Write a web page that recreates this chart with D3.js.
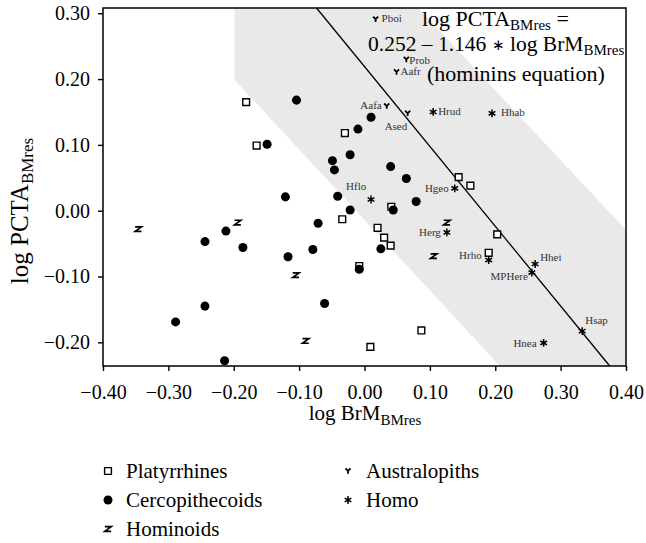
<!DOCTYPE html>
<html>
<head>
<meta charset="utf-8">
<script src="https://cdn.jsdelivr.net/npm/d3@7"></script>
<style>
  body { margin: 0; background: #fff; }
  svg text { font-family: "Liberation Serif", "Times New Roman", serif; }
</style>
</head>
<body>
<svg id="drawing_region"></svg>
<script>
// values
const xTicks = [-0.40, -0.30, -0.20, -0.10, 0.00, 0.10, 0.20, 0.30, 0.40];
const yTicks = [-0.20, -0.10, 0.00, 0.10, 0.20, 0.30];

const platyrrhines = [
  [-0.181, 0.165], [-0.030, 0.118], [-0.165, 0.099], [0.144, 0.051], [0.162, 0.038],
  [0.041, 0.006], [-0.034, -0.013], [0.020, -0.026], [0.030, -0.041], [0.040, -0.053],
  [-0.008, -0.084], [0.203, -0.036], [0.190, -0.064], [0.087, -0.182], [0.009, -0.207]
];

const cercopithecoids = [
  [-0.104, 0.168], [0.010, 0.142], [-0.010, 0.124], [-0.149, 0.101], [-0.022, 0.085],
  [-0.049, 0.076], [-0.046, 0.062], [0.040, 0.067], [0.064, 0.049], [-0.121, 0.021],
  [-0.041, 0.022], [-0.022, 0.001], [0.044, 0.001], [0.079, 0.014], [-0.071, -0.019],
  [-0.212, -0.031], [-0.244, -0.047], [-0.186, -0.056], [-0.117, -0.070], [-0.079, -0.059],
  [0.025, -0.058], [-0.008, -0.089], [-0.061, -0.141], [-0.244, -0.145], [-0.289, -0.169],
  [-0.214, -0.228]
];

const hominoids = [
  [0.126, -0.018], [0.106, -0.069], [-0.346, -0.028], [-0.194, -0.018], [-0.105, -0.098],
  [-0.090, -0.198]
];

const australopiths = [
  {name: "Pboi", x: 0.017, y: 0.291},
  {name: "Prob", x: 0.064, y: 0.230},
  {name: "Aafr", x: 0.049, y: 0.211},
  {name: "Aafa", x: 0.034, y: 0.159},
  {name: "Ased", x: 0.066, y: 0.148}
];

const homo = [
  {name: "Hrud", x: 0.105, y: 0.150},
  {name: "Hhab", x: 0.195, y: 0.148},
  {name: "Hgeo", x: 0.138, y: 0.034},
  {name: "Hflo", x: 0.010, y: 0.017},
  {name: "Herg", x: 0.126, y: -0.033},
  {name: "Hrho", x: 0.190, y: -0.075},
  {name: "Hhei", x: 0.261, y: -0.081},
  {name: "MPHere", x: 0.256, y: -0.094},
  {name: "Hsap", x: 0.333, y: -0.183},
  {name: "Hnea", x: 0.274, y: -0.201}
];

// shaded region and drawn fit line
const band = [[-0.199, 0.308], [0.082, 0.308], [0.40, -0.029], [0.40, -0.236], [0.207, -0.236], [-0.199, 0.199]];
const fitIntercept = 0.219;
const fitSlope = -1.213;

const legendNames = ["Platyrrhines", "Cercopithecoids", "Hominoids", "Australopiths", "Homo"];

// label placement next to each named point: [dx, dy, anchor]
const labelPlace = {
  Pboi: [6, 3, "start"], Prob: [3, 5, "start"], Aafr: [4, 3, "start"],
  Aafa: [-5, 3, "end"], Ased: [-23, 17, "start"],
  Hrud: [5, 3, "start"], Hhab: [9, 3, "start"], Hgeo: [-6, 4, "end"],
  Hflo: [-25, -10, "start"], Herg: [-6, 4, "end"], Hrho: [-7, -1, "end"],
  Hhei: [5, -3, "start"], MPHere: [-4, 7, "end"], Hsap: [3, -7, "start"],
  Hnea: [-7, 4, "end"]
};

const SERIF = '"Liberation Serif", "Times New Roman", serif';

const symbolZ = {
  draw(ctx, size) {
    const w = Math.sqrt(size) / 2, h = w * 0.72;
    ctx.moveTo(-w, -h); ctx.lineTo(w, -h); ctx.lineTo(-w, h); ctx.lineTo(w, h);
  }
};
const symbolY = {
  draw(ctx, size) {
    const r = Math.sqrt(size) / 2;
    ctx.moveTo(-r, -r); ctx.lineTo(0, 0); ctx.lineTo(r, -r);
    ctx.moveTo(0, 0); ctx.lineTo(0, r * 1.1);
  }
};

const styles = {
  Platyrrhines:    {type: d3.symbolSquare, size: 46, fill: "#fff", stroke: "#000", sw: 1.4},
  Cercopithecoids: {type: d3.symbolCircle, size: 64, fill: "#000", stroke: "none", sw: 0},
  Hominoids:       {type: symbolZ, size: 40, fill: "none", stroke: "#000", sw: 1.7},
  Australopiths:   {type: symbolY, size: 26, fill: "none", stroke: "#000", sw: 1.8},
  Homo:            {type: d3.symbolAsterisk, size: 42, fill: "none", stroke: "#000", sw: 1.5}
};

const width = 646, height = 543;
const margin = {top: 8, right: 20, bottom: 177, left: 103};

const svg = d3.select("#drawing_region")
  .attr("width", width)
  .attr("height", height)
  .style("font-family", SERIF);

const x = d3.scaleLinear().domain([-0.40, 0.40]).range([margin.left, width - margin.right]);
const y = d3.scaleLinear().domain([-0.236, 0.308]).range([height - margin.bottom, margin.top]);

const fmt = d3.format(".2f");

// band
svg.append("path")
  .attr("d", d3.line().x(d => x(d[0])).y(d => y(d[1]))(band) + "Z")
  .attr("fill", "#e9e9e9");

// fit line clipped to plot
const yTop = y.domain()[1], yBot = y.domain()[0];
const fitEnds = [[(yTop - fitIntercept) / fitSlope, yTop], [(yBot - fitIntercept) / fitSlope, yBot]];
svg.append("path")
  .attr("d", d3.line().x(d => x(d[0])).y(d => y(d[1]))(fitEnds))
  .attr("stroke", "#000")
  .attr("stroke-width", 1.3)
  .attr("fill", "none");

// axes
const xAxis = d3.axisBottom(x).tickValues(xTicks).tickFormat(fmt).tickSize(5).tickPadding(14).tickSizeOuter(0);
const yAxis = d3.axisLeft(y).tickValues(yTicks).tickFormat(fmt).tickSize(5).tickPadding(8).tickSizeOuter(0);

const gx = svg.append("g")
  .attr("transform", `translate(0, ${height - margin.bottom})`)
  .call(xAxis);
const gy = svg.append("g")
  .attr("transform", `translate(${margin.left}, 0)`)
  .call(yAxis);

[gx, gy].forEach(g => {
  g.attr("font-family", null).attr("font-size", null);
  g.select(".domain").remove();
  g.selectAll(".tick line").attr("stroke", "#000").attr("stroke-width", 1.4);
  g.selectAll(".tick text")
    .attr("fill", "#000")
    .style("font-family", SERIF)
    .style("font-size", "20px");
});

// frame
svg.append("rect")
  .attr("x", x.range()[0])
  .attr("y", y.range()[1])
  .attr("width", x.range()[1] - x.range()[0])
  .attr("height", y.range()[0] - y.range()[1])
  .attr("fill", "none")
  .attr("stroke", "#000")
  .attr("stroke-width", 1.5);

// points
function drawGroup(name, pts) {
  const s = styles[name];
  svg.append("g").selectAll("path")
    .data(pts)
    .join("path")
    .attr("transform", d => `translate(${x(d[0])}, ${y(d[1])})`)
    .attr("d", d3.symbol(s.type, s.size))
    .attr("fill", s.fill)
    .attr("stroke", s.stroke)
    .attr("stroke-width", s.sw);
}
drawGroup("Platyrrhines", platyrrhines);
drawGroup("Hominoids", hominoids);
drawGroup("Cercopithecoids", cercopithecoids);
drawGroup("Australopiths", australopiths.map(d => [d.x, d.y]));
drawGroup("Homo", homo.map(d => [d.x, d.y]));

// point labels
svg.append("g").selectAll("text")
  .data(australopiths.concat(homo))
  .join("text")
  .attr("x", d => x(d.x) + labelPlace[d.name][0])
  .attr("y", d => y(d.y) + labelPlace[d.name][1])
  .attr("text-anchor", d => labelPlace[d.name][2])
  .style("font-family", SERIF)
  .style("font-size", "11px")
  .attr("fill", "#333")
  .text(d => d.name);

// equation
function subText(parent, px, py, size, subSize, parts) {
  const t = parent.append("text").attr("x", px).attr("y", py)
    .style("font-family", SERIF).style("font-size", size + "px");
  parts.forEach(p => {
    if (p.sub) {
      t.append("tspan").style("font-size", subSize + "px").attr("dy", 4).text(p.sub);
    } else if (p.op) {
      t.append("tspan").style("font-size", (size * 0.7) + "px").attr("dy", -1).text(p.op);
      t.append("tspan").attr("dy", 1).text(" ");
    } else {
      t.append("tspan").attr("dy", p.back ? -4 : 0).text(p.t);
    }
  });
  return t;
}
const eq = svg.append("g").attr("fill", "#000");
subText(eq, 422, 26, 22, 15, [{t: "log PCTA"}, {sub: "BMres"}, {t: " =", back: true}]);
subText(eq, 368, 51, 21.5, 15, [{t: "0.252 \u2013 1.146 "}, {op: "\u2217"}, {t: "log BrM"}, {sub: "BMres"}]);
subText(eq, 427, 81, 22, 15, [{t: "(hominins equation)"}]);

// axis titles
const xt = svg.append("text")
  .attr("x", 365).attr("y", 420)
  .attr("text-anchor", "middle")
  .style("font-family", SERIF)
  .style("font-size", "21px");
xt.append("tspan").text("log BrM");
xt.append("tspan").style("font-size", "15px").attr("dy", 5).text("BMres");

const yt = svg.append("text")
  .attr("transform", "translate(28, 211) rotate(-90)")
  .attr("text-anchor", "middle")
  .style("font-family", SERIF)
  .style("font-size", "25px");
yt.append("tspan").text("log PCTA");
yt.append("tspan").style("font-size", "17px").attr("dy", 5).text("BMres");

// legend
const legend = svg.append("g");
legendNames.forEach((name, i) => {
  const col = i < 3 ? 0 : 1;
  const row = i < 3 ? i : i - 3;
  const lx = col === 0 ? 108 : 348;
  const ly = 471 + row * 29;
  const s = styles[name];
  legend.append("path")
    .attr("transform", `translate(${lx}, ${ly})`)
    .attr("d", d3.symbol(s.type, s.size))
    .attr("fill", s.fill)
    .attr("stroke", s.stroke)
    .attr("stroke-width", s.sw);
  legend.append("text")
    .attr("x", lx + 18)
    .attr("y", ly + 7)
    .style("font-family", SERIF)
    .style("font-size", "21px")
    .text(name);
});
</script>
</body>
</html>
